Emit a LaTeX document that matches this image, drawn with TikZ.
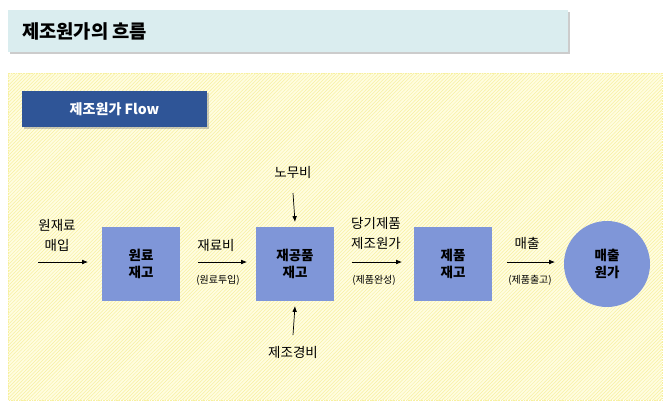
\documentclass[tikz,border=0pt]{standalone}
\usepackage{fontspec}
\setmainfont{Noto Sans CJK KR}
\usepackage{tikz}
\usetikzlibrary{patterns,shadows,arrows.meta}

\definecolor{titlebg}{HTML}{DAEDEF}
\definecolor{flowblue}{HTML}{2F5597}
\definecolor{boxblue}{HTML}{7F96D8}
\definecolor{padyellow}{HTML}{FFFDE0}
\definecolor{lineyellow}{HTML}{F7F0A0}

\tikzset{
    stock/.style={fill=boxblue, minimum width=78*0.03cm, minimum height=74*0.03cm, align=center, font=\bfseries\fontsize{11.5}{14}\selectfont},
    lbl/.style={align=center, font=\fontsize{11.5}{17}\selectfont},
    sub/.style={font=\fontsize{8.5}{10}\selectfont},
    flow/.style={-{Latex[length=5pt,width=4pt]}, semithick}
}

\begin{document}
\begin{tikzpicture}[x=0.03cm, y=-0.03cm]
    \useasboundingbox (0,0) rectangle (670,410);

    % 제목
    \fill[titlebg, drop shadow={shadow xshift=2pt, shadow yshift=-2pt, opacity=0.4}] (8,10) rectangle (568,52);
    \node[anchor=west, font=\bfseries\fontsize{16}{18}\selectfont] (title) at (18,31) {제조원가의 흐름};

    % 배경
    \fill[padyellow] (8,73) rectangle (662,400);
    \fill[pattern=north east lines, pattern color=lineyellow] (8,73) rectangle (662,400);
    \draw[lineyellow, densely dotted] (8,73) rectangle (662,400);

    \fill[flowblue, drop shadow={shadow xshift=2pt, shadow yshift=-2pt, opacity=0.4}] (22,91) rectangle (207,127);
    \node[text=white, font=\bfseries\fontsize{12}{14}\selectfont] (flowtitle) at (114.5,109) {제조원가 Flow};

    % 재고
    \node[stock] (raw) at (141,264) {원료\\재고};
    \node[stock] (wip) at (295,264) {재공품\\재고};
    \node[stock] (fin) at (453,264) {제품\\재고};
    \node[circle, fill=boxblue, minimum size=86*0.03cm, align=center, font=\bfseries\fontsize{11.5}{14}\selectfont] (cogs) at (607,264) {매출\\원가};

    % 흐름
    \coordinate (in) at (38,262);
    \draw[flow] (in) -- (88,262);
    \node[lbl] (buy) at (57,235) {원재료\\매입};

    \coordinate (s1) at (198,262); \coordinate (e1) at (247,262);
    \draw[flow] (s1) -- (e1);
    \node[lbl] (matcost) at (216,245) {재료비};
    \node[sub] (matin) at (218,280) {(원료투입)};

    \coordinate (s2) at (352,262); \coordinate (e2) at (402,262);
    \draw[flow] (s2) -- (e2);
    \node[lbl] (mfg) at (376,233) {당기제품\\제조원가};
    \node[sub] (done) at (374,280) {(제품완성)};

    \coordinate (s3) at (507,262); \coordinate (e3) at (555,262);
    \draw[flow] (s3) -- (e3);
    \node[lbl] (sales) at (527,243) {매출};
    \node[sub] (out) at (530,280) {(제품출고)};

    \node[lbl] (labor) at (293,172) {노무비};
    \coordinate (l1) at (293,193);
    \draw[flow] (l1) -- (wip.north |- 0,222);
    \node[lbl] (ovh) at (293,352) {제조경비};
    \coordinate (o1) at (293,335);
    \draw[flow] (o1) -- (wip.south |- 0,306);
\end{tikzpicture}
\end{document}
